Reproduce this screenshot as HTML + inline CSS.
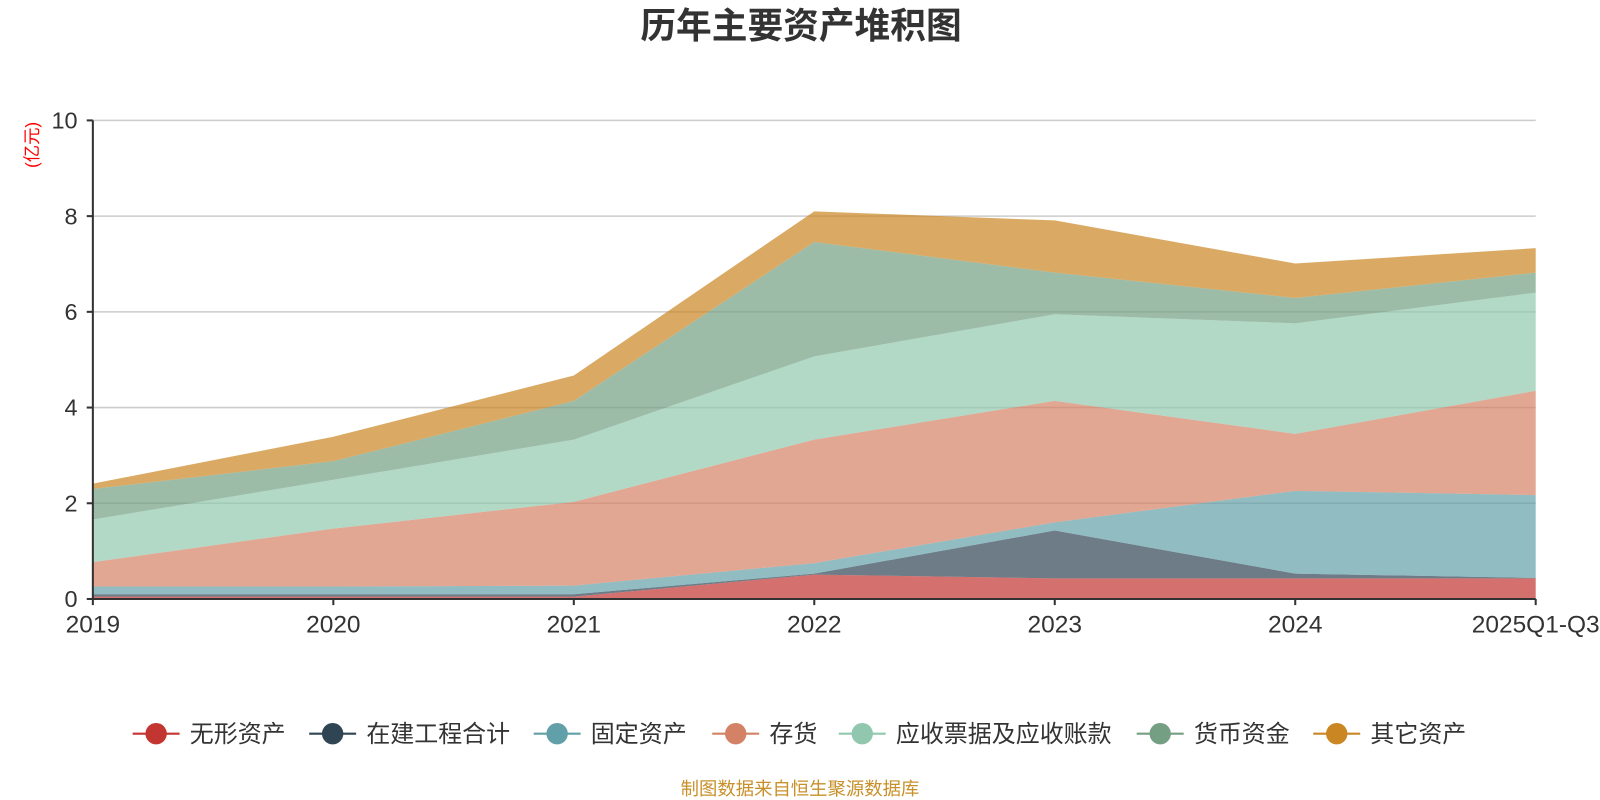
<!DOCTYPE html>
<html><head><meta charset="utf-8"><style>
body{margin:0;background:#fff;font-family:"Liberation Sans","Noto Sans CJK SC",sans-serif;}
svg{display:block}
</style></head><body>
<svg id="chart" width="1600" height="800" xmlns="http://www.w3.org/2000/svg">
<g transform="scale(1.0204)">
<text x="785" y="37" text-anchor="middle" font-size="35" font-weight="bold" fill="#333">历年主要资产堆积图</text>
<text transform="translate(37,142) rotate(-90)" text-anchor="middle" font-size="17" fill="#ff0000">(亿元)</text>
<g id="grid"></g><g id="areas"></g><g id="axes"></g><g id="legend"></g>
<text x="784" y="779" text-anchor="middle" font-size="18" fill="#c8902a">制图数据来自恒生聚源数据库</text>
</g>
</svg>
<script>
const categories=["2019","2020","2021","2022","2023","2024","2025Q1-Q3"];
const seriesNames=["无形资产","在建工程合计","固定资产","存货","应收票据及应收账款","货币资金","其它资产"];
const intangible=[0.05,0.05,0.05,0.51,0.43,0.43,0.43];
const construction=[0.05,0.05,0.05,0.02,1.0,0.1,0.01];
const fixedAssets=[0.16,0.16,0.18,0.22,0.17,1.73,1.73];
const inventory=[0.51,1.21,1.75,2.58,2.54,1.19,2.18];
const receivables=[0.89,1.02,1.30,1.74,1.81,2.31,2.05];
const cash=[0.64,0.39,0.81,2.39,0.87,0.53,0.42];
const otherAssets=[0.11,0.51,0.53,0.64,1.09,0.72,0.51];
const yTicks=[0,2,4,6,8,10];
const colors=["#c23531","#2f4554","#61a0a8","#d48265","#91c7ae","#749f83","#ca8622"];
const series=[intangible,construction,fixedAssets,inventory,receivables,cash,otherAssets];
const NS="http://www.w3.org/2000/svg";
const X0=91,X1=1505,Y0=587,Y1=118;
const xs=i=>X0+i*(X1-X0)/(categories.length-1);
const ys=v=>Y0-v*(Y0-Y1)/10;
function mk(t,a,p){const e=document.createElementNS(NS,t);for(const k in a)e.setAttribute(k,a[k]);p.appendChild(e);return e;}
const grid=document.getElementById('grid'),areas=document.getElementById('areas'),axes=document.getElementById('axes'),legend=document.getElementById('legend');
yTicks.forEach(v=>{
 if(v>0){const g=mk('line',{x1:X0,x2:X1,y1:ys(v),y2:ys(v),stroke:'#ccc','stroke-width':1.5},grid);
 
 }
 const t=mk('text',{x:X0-15,y:ys(v)+8,'text-anchor':'end','font-size':23,fill:'#333'},axes);t.textContent=v;
 
 
 mk('line',{x1:X0-6,x2:X0,y1:ys(v),y2:ys(v),stroke:'#333','stroke-width':2},axes);
});
let base=categories.map(()=>0);
series.forEach((s,k)=>{
 const top=base.map((b,i)=>b+s[i]);
 let pts=top.map((v,i)=>xs(i)+','+ys(v));
 for(let i=categories.length-1;i>=0;i--)pts.push(xs(i)+','+ys(base[i]));
 const p=mk('polygon',{points:pts.join(' '),fill:colors[k],'fill-opacity':0.7},areas);
 
 
 base=top;
});
mk('line',{x1:X0,x2:X0,y1:Y1,y2:Y0,stroke:'#333','stroke-width':2},axes);
mk('line',{x1:X0,x2:X1,y1:Y0,y2:Y0,stroke:'#333','stroke-width':2},axes);
categories.forEach((c,i)=>{
 mk('line',{x1:xs(i),x2:xs(i),y1:Y0,y2:Y0+6,stroke:'#333','stroke-width':2},axes);
 const t=mk('text',{x:xs(i),y:Y0+33,'text-anchor':'middle','font-size':24,fill:'#333'},axes);t.textContent=c;
 
 
});
const lx=[130,303,523,698,822,1114,1287];
seriesNames.forEach((n,k)=>{
 const g=mk('g',{},legend);
 
 
 mk('line',{x1:lx[k],x2:lx[k]+46,y1:719,y2:719,stroke:colors[k],'stroke-width':2},g);
 mk('circle',{cx:lx[k]+23,cy:719,r:10.5,fill:colors[k]},g);
 const t=mk('text',{x:lx[k]+56,y:727,'font-size':23.5,fill:'#333'},g);t.textContent=n;
});
</script>
</body></html>
